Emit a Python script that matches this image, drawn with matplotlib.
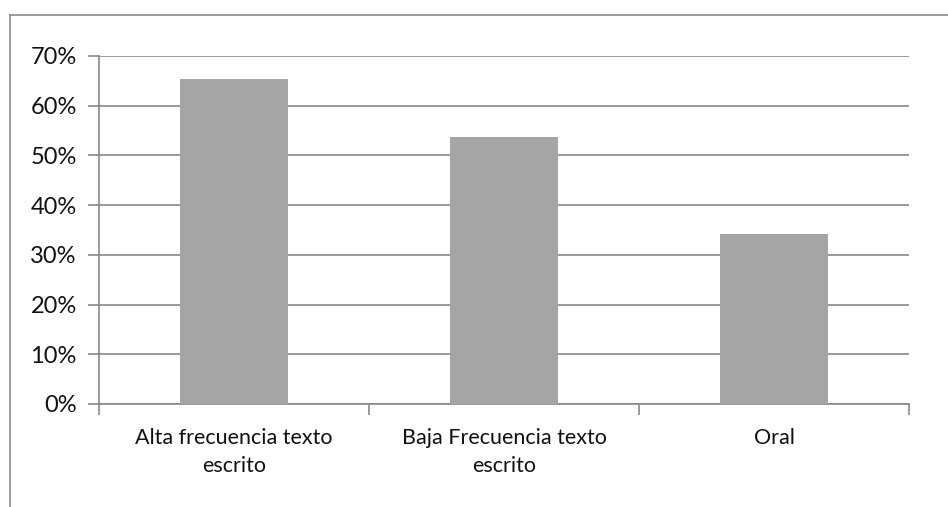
import matplotlib
matplotlib.use("Agg")
import matplotlib.pyplot as plt
from matplotlib.lines import Line2D
from matplotlib.ticker import FuncFormatter, MultipleLocator

categories = ["Alta frecuencia texto\nescrito", "Baja Frecuencia texto\nescrito", "Oral"]
values = [0.654, 0.537, 0.342]

plt.rcParams['font.family'] = ['Lato', 'DejaVu Sans']

W, H = 948, 507
fig = plt.figure(figsize=(W/100, H/100), dpi=100)
ax = fig.add_axes([99/W, 1-404/H, (909-99)/W, (404-56)/H])

grid_c = "#878787"
ax.bar(range(len(categories)), values, width=0.4, color="#A5A5A5", zorder=3)
ax.set_xlim(-0.5, len(categories)-0.5)
ax.set_ylim(0, 0.7)
ax.yaxis.set_major_locator(MultipleLocator(0.1))
ax.yaxis.set_major_formatter(FuncFormatter(lambda v, p: f"{v*100:.0f}%"))
ax.grid(axis='y', color=grid_c, linewidth=1.2, zorder=0)
for s in ['top', 'right']:
    ax.spines[s].set_visible(False)
for s in ['left', 'bottom']:
    ax.spines[s].set_color(grid_c)
    ax.spines[s].set_linewidth(1.2)

ax.set_xticks([i for i in range(len(categories))])
ax.set_xticklabels(categories, fontsize=15.5, color="#111111", linespacing=1.5)
ax.tick_params(axis='x', length=0, pad=17)
ax.set_xticks([-0.5, 0.5, 1.5, 2.5], minor=True)
ax.tick_params(axis='x', which='minor', length=8, color=grid_c, width=1.2)
ax.tick_params(axis='y', length=8, color=grid_c, width=1.2, labelsize=17, labelcolor="#111111", pad=8)

# outer frame (partially visible)
fig.add_artist(Line2D([10/W, 10/W], [0, 1-15/H], color="#8a8a8a", linewidth=1.2, transform=fig.transFigure))
fig.add_artist(Line2D([10/W, 1], [1-15/H, 1-15/H], color="#8a8a8a", linewidth=1.2, transform=fig.transFigure))

fig.savefig("out.png", dpi=100, facecolor="white")
